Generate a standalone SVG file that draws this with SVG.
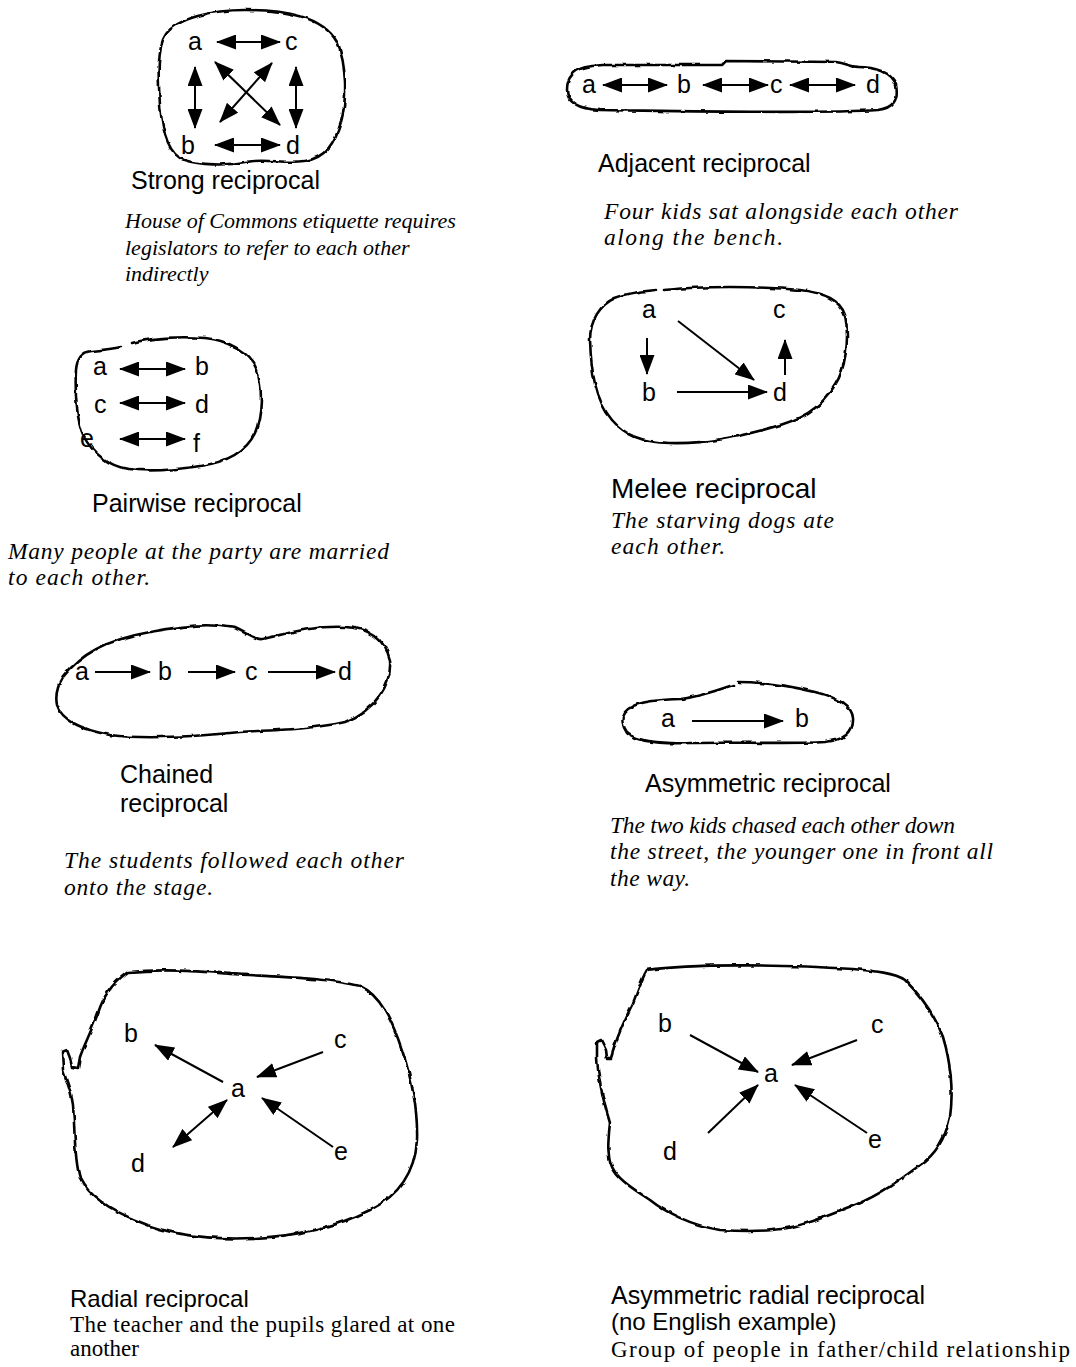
<svg xmlns="http://www.w3.org/2000/svg" width="1076" height="1367" viewBox="0 0 1076 1367">
<style>
.blob{fill:none;stroke:#000;stroke-width:2.6;stroke-linejoin:round;stroke-linecap:round;filter:url(#wob)}
.lbl{font-family:"Liberation Sans",Arial,sans-serif;font-size:25px;fill:#000}
.ttl{font-family:"Liberation Sans",Arial,sans-serif;font-size:25px;fill:#000}
.ex{font-family:"Liberation Serif","Times New Roman",serif;font-size:22px;font-style:italic;fill:#000}
.exb{font-family:"Liberation Serif","Times New Roman",serif;font-size:23.5px;font-style:italic;fill:#000}
.exr{font-family:"Liberation Serif","Times New Roman",serif;font-size:23px;fill:#000}
.c1{stroke:#000;stroke-width:2;fill:none;marker-end:url(#ah)}
.c2{stroke:#000;stroke-width:2;fill:none;marker-end:url(#ah);marker-start:url(#ahs)}
</style>
<defs>
<filter id="wob" x="-5%" y="-5%" width="110%" height="110%">
<feTurbulence type="fractalNoise" baseFrequency="0.09" numOctaves="2" seed="3" result="n"/>
<feDisplacementMap in="SourceGraphic" in2="n" scale="3.5" xChannelSelector="R" yChannelSelector="G"/>
</filter>
<marker id="ah" markerUnits="userSpaceOnUse" markerWidth="20" markerHeight="15" refX="19" refY="7.5" orient="auto"><path d="M0,0 L20,7.5 L0,15 Z" fill="#000"/></marker>
<marker id="ahs" markerUnits="userSpaceOnUse" markerWidth="20" markerHeight="15" refX="19" refY="7.5" orient="auto-start-reverse"><path d="M0,0 L20,7.5 L0,15 Z" fill="#000"/></marker>
</defs>
<rect width="1076" height="1367" fill="#fff"/>

<!-- Strong reciprocal -->
<g id="strong">
<path class="blob" d="M166,34 C178,18 212,10 245,10 C285,10 322,16 337,42 C347,65 347,100 341,122 C335,142 326,158 305,161 C285,164 265,158 245,162 C225,166 200,165 184,160 C168,154 162,130 160,105 C158,75 157,47 166,34 Z"/>
<g id="strong-a"><text class="lbl" x="188" y="50">a</text></g>
<g id="strong-c"><text class="lbl" x="285" y="50">c</text></g>
<g id="strong-b"><text class="lbl" x="181" y="154">b</text></g>
<g id="strong-d"><text class="lbl" x="286" y="154">d</text></g>
<g id="strong-connectors">
<line class="c2" x1="217" y1="42" x2="280" y2="42"/>
<line class="c2" x1="215" y1="145" x2="280" y2="145"/>
<line class="c2" x1="195" y1="67" x2="195" y2="128"/>
<line class="c2" x1="296" y1="67" x2="296" y2="128"/>
<line class="c2" x1="215" y1="62" x2="280" y2="125"/>
<line class="c2" x1="272" y1="63" x2="220" y2="122"/>
</g>
<text class="ttl" x="131" y="189">Strong reciprocal</text>
<text class="ex" x="125" y="228">House of Commons etiquette requires</text>
<text class="ex" x="125" y="255">legislators to refer to each other</text>
<text class="ex" x="125" y="281">indirectly</text>
</g>

<!-- Adjacent reciprocal -->
<g id="adjacent">
<path class="blob" d="M572,75 C578,67 590,66 603,65 L722,65 L726,61 L836,62 C846,63 850,67 858,67 C875,67 892,72 896,85 C899,100 893,108 878,110 C820,114 680,111 600,110 C578,109 567,102 567,90 C567,82 569,78 572,75 Z"/>
<g id="adj-a"><text class="lbl" x="582" y="93">a</text></g>
<g id="adj-b"><text class="lbl" x="677" y="93">b</text></g>
<g id="adj-c"><text class="lbl" x="770" y="93">c</text></g>
<g id="adj-d"><text class="lbl" x="866" y="93">d</text></g>
<g id="adj-connectors">
<line class="c2" x1="603" y1="85" x2="667" y2="85"/>
<line class="c2" x1="703" y1="85" x2="768" y2="85"/>
<line class="c2" x1="790" y1="85" x2="855" y2="85"/>
</g>
<text class="ttl" x="598" y="172">Adjacent reciprocal</text>
<text class="exb" x="604" y="219" textLength="354" lengthAdjust="spacing">Four kids sat alongside each other</text>
<text class="exb" x="604" y="245" textLength="179" lengthAdjust="spacing">along the bench.</text>
</g>

<!-- Pairwise reciprocal -->
<g id="pairwise">
<path class="blob" d="M132,343 C150,338 180,336 205,338 C228,340 250,352 257,370 C263,390 262,415 255,433 C246,452 228,462 200,466 C175,470 150,472 128,469 C108,466 92,452 84,437 C76,420 75,390 76,370 C77,358 82,352 92,351 C102,350 112,349 121,347"/>
<g id="pw-a"><text class="lbl" x="93" y="375">a</text></g>
<g id="pw-b"><text class="lbl" x="195" y="375">b</text></g>
<g id="pw-c"><text class="lbl" x="94" y="413">c</text></g>
<g id="pw-d"><text class="lbl" x="195" y="413">d</text></g>
<g id="pw-e"><text class="lbl" x="80" y="447">e</text></g>
<g id="pw-f"><text class="lbl" x="193" y="452">f</text></g>
<g id="pw-connectors">
<line class="c2" x1="120" y1="369" x2="185" y2="369"/>
<line class="c2" x1="120" y1="403" x2="185" y2="403"/>
<line class="c2" x1="120" y1="439" x2="185" y2="439"/>
</g>
<text class="ttl" x="92" y="512">Pairwise reciprocal</text>
<text class="exb" x="8" y="559" textLength="381" lengthAdjust="spacing">Many people at the party are married</text>
<text class="exb" x="8" y="585" textLength="142" lengthAdjust="spacing">to each other.</text>
</g>

<!-- Melee reciprocal -->
<g id="melee">
<path class="blob" d="M664,290 C700,286 760,286 800,290 C825,293 840,300 845,315 C850,340 845,370 835,385 C820,410 800,420 770,428 C740,436 710,444 670,443 C640,442 625,435 612,420 C595,400 591,370 590,340 C590,320 600,305 615,298 C630,292 645,291 656,290"/>
<g id="mel-a"><text class="lbl" x="642" y="318">a</text></g>
<g id="mel-c"><text class="lbl" x="773" y="318">c</text></g>
<g id="mel-b"><text class="lbl" x="642" y="401">b</text></g>
<g id="mel-d"><text class="lbl" x="773" y="401">d</text></g>
<g id="mel-connectors">
<line class="c1" x1="647" y1="338" x2="647" y2="374"/>
<line class="c1" x1="678" y1="321" x2="754" y2="380"/>
<line class="c1" x1="677" y1="392" x2="767" y2="392"/>
<line class="c1" x1="785" y1="375" x2="785" y2="340"/>
</g>
<text class="ttl" x="611" y="498" style="font-size:28px">Melee reciprocal</text>
<text class="exb" x="611" y="528" textLength="223" lengthAdjust="spacing">The starving dogs ate</text>
<text class="exb" x="611" y="554" textLength="114" lengthAdjust="spacing">each other.</text>
</g>

<!-- Chained reciprocal -->
<g id="chained">
<path class="blob" d="M63,677 C80,655 105,640 150,632 C180,627 205,622 235,628 C248,634 255,640 262,639 C285,634 315,625 345,627 C370,628 385,640 390,660 C392,685 375,710 345,722 C310,730 270,730 240,732 C200,736 150,740 110,735 C85,730 62,722 57,705 C55,695 58,685 63,677 Z"/>
<g id="ch-a"><text class="lbl" x="75" y="680">a</text></g>
<g id="ch-b"><text class="lbl" x="158" y="680">b</text></g>
<g id="ch-c"><text class="lbl" x="245" y="680">c</text></g>
<g id="ch-d"><text class="lbl" x="338" y="680">d</text></g>
<g id="ch-connectors">
<line class="c1" x1="95" y1="672" x2="150" y2="672"/>
<line class="c1" x1="188" y1="672" x2="235" y2="672"/>
<line class="c1" x1="268" y1="672" x2="335" y2="672"/>
</g>
<text class="ttl" x="120" y="783">Chained</text>
<text class="ttl" x="120" y="812">reciprocal</text>
<text class="exb" x="64" y="868" textLength="340" lengthAdjust="spacing">The students followed each other</text>
<text class="exb" x="64" y="895" textLength="149" lengthAdjust="spacing">onto the stage.</text>
</g>

<!-- Asymmetric reciprocal -->
<g id="asym">
<path class="blob" d="M738,682 C760,682 790,686 815,692 C835,697 852,705 853,718 C854,732 845,740 825,742 C790,744 730,742 690,743 C660,744 635,741 627,733 C622,726 621,718 625,712 C632,703 650,700 680,699 C700,697 718,690 733,685"/>
<g id="as-a"><text class="lbl" x="661" y="727">a</text></g>
<g id="as-b"><text class="lbl" x="795" y="727">b</text></g>
<g id="as-connectors">
<line class="c1" x1="692" y1="721" x2="783" y2="721"/>
</g>
<text class="ttl" x="645" y="792">Asymmetric reciprocal</text>
<text class="exb" x="610" y="833" textLength="345" lengthAdjust="spacing">The two kids chased each other down</text>
<text class="exb" x="610" y="859" textLength="383" lengthAdjust="spacing">the street, the younger one in front all</text>
<text class="exb" x="610" y="886" textLength="80" lengthAdjust="spacing">the way.</text>
</g>

<!-- Radial reciprocal -->
<g id="radial">
<path class="blob" d="M128,972 C160,969 200,971 230,974 C280,977 330,978 360,986 C380,995 392,1020 402,1050 C412,1080 418,1110 417,1140 C415,1170 400,1195 370,1210 C340,1225 300,1236 255,1238 C210,1240 170,1235 140,1222 C110,1210 88,1195 80,1178 C74,1160 75,1130 73,1105 C71,1090 66,1080 63,1070 L62,1052 L67,1050 L70,1058 L72,1067 L78,1068 L80,1057 C84,1045 92,1030 98,1013 C103,998 110,985 128,972 Z"/>
<g id="rad-a"><text class="lbl" x="231" y="1097">a</text></g>
<g id="rad-b"><text class="lbl" x="124" y="1042">b</text></g>
<g id="rad-c"><text class="lbl" x="334" y="1048">c</text></g>
<g id="rad-d"><text class="lbl" x="131" y="1172">d</text></g>
<g id="rad-e"><text class="lbl" x="334" y="1160">e</text></g>
<g id="rad-connectors">
<line class="c1" x1="223" y1="1082" x2="155" y2="1045"/>
<line class="c1" x1="323" y1="1052" x2="257" y2="1077"/>
<line class="c1" x1="333" y1="1147" x2="262" y2="1098"/>
<line class="c2" x1="227" y1="1100" x2="173" y2="1147"/>
</g>
<text class="ttl" x="70" y="1307" style="font-size:24px">Radial reciprocal</text>
<text class="exr" x="70" y="1332" textLength="385" lengthAdjust="spacing">The teacher and the pupils glared at one</text>
<text class="exr" x="70" y="1356">another</text>
</g>

<!-- Asymmetric radial reciprocal -->
<g id="asymradial">
<path class="blob" d="M647,970 C690,964 780,964 853,969 C875,971 895,973 905,980 C920,995 935,1015 943,1037 C950,1060 954,1090 950,1117 C945,1140 935,1155 920,1165 C900,1180 880,1195 855,1205 C830,1215 800,1228 773,1230 C750,1232 735,1231 720,1230 C690,1225 665,1212 650,1200 C635,1190 622,1182 615,1172 C606,1160 608,1140 610,1123 C603,1100 598,1080 597,1057 L597,1042 L601,1040 L606,1050 L607,1058 L611,1058 L615,1045 C620,1030 627,1015 633,1003 C638,990 642,978 647,970 Z"/>
<g id="ar-a"><text class="lbl" x="764" y="1082">a</text></g>
<g id="ar-b"><text class="lbl" x="658" y="1032">b</text></g>
<g id="ar-c"><text class="lbl" x="871" y="1033">c</text></g>
<g id="ar-d"><text class="lbl" x="663" y="1160">d</text></g>
<g id="ar-e"><text class="lbl" x="868" y="1148">e</text></g>
<g id="ar-connectors">
<line class="c1" x1="690" y1="1035" x2="758" y2="1072"/>
<line class="c1" x1="857" y1="1040" x2="792" y2="1065"/>
<line class="c1" x1="708" y1="1133" x2="758" y2="1085"/>
<line class="c1" x1="867" y1="1133" x2="795" y2="1085"/>
</g>
<text class="ttl" x="611" y="1304">Asymmetric radial reciprocal</text>
<text class="ttl" x="611" y="1330" style="font-size:24px">(no English example)</text>
<text class="exr" x="611" y="1357" textLength="459" lengthAdjust="spacing">Group of people in father/child relationship</text>
</g>
</svg>
